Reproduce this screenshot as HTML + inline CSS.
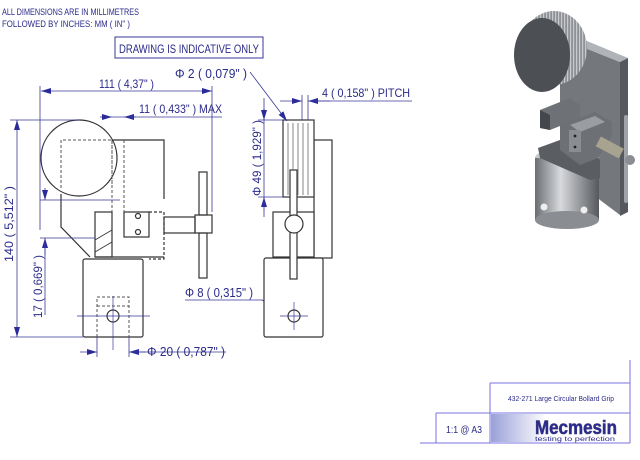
<!DOCTYPE html>
<html><head><meta charset="utf-8"><style>
html,body{margin:0;padding:0;background:#fff;width:640px;height:460px;overflow:hidden}
svg{display:block}
text{font-family:"Liberation Sans",sans-serif;fill:#2a2a8a}
</style></head><body>
<svg width="640" height="460" viewBox="0 0 640 460" xmlns="http://www.w3.org/2000/svg">
<defs>
<marker id="a" viewBox="0 0 10 6" refX="10" refY="3" markerWidth="10" markerHeight="6" orient="auto-start-reverse" markerUnits="userSpaceOnUse"><path d="M0,0L10,3L0,6z" fill="#2a2a9a"/></marker>
<linearGradient id="cyl" x1="0" x2="1"><stop offset="0" stop-color="#6a6d72"/><stop offset="0.4" stop-color="#d8dadd"/><stop offset="1" stop-color="#55585c"/></linearGradient>
<linearGradient id="logo" x1="0" x2="1"><stop offset="0" stop-color="#9aa0d8"/><stop offset="0.4" stop-color="#fff"/><stop offset="1" stop-color="#fff"/></linearGradient>
<pattern id="grv" width="3" height="4" patternUnits="userSpaceOnUse"><rect width="3" height="4" fill="#8e9196"/><rect width="1.2" height="4" fill="#c8cacd"/></pattern>
</defs>

<text x="2" y="15" font-size="9.5" textLength="137" lengthAdjust="spacingAndGlyphs">ALL DIMENSIONS ARE IN MILLIMETRES</text>
<text x="2" y="27" font-size="9.5" textLength="128" lengthAdjust="spacingAndGlyphs">FOLLOWED BY INCHES:   MM ( IN" )</text>
<rect x="115" y="37" width="148" height="21" fill="none" stroke="#3a3a9a" stroke-width="1"/>
<text x="119" y="53" font-size="12" textLength="140" lengthAdjust="spacingAndGlyphs">DRAWING IS INDICATIVE ONLY</text>

<g stroke="#333" stroke-width="1.2" fill="none">
<circle cx="79" cy="158" r="38" fill="#fff"/>
<path d="M112,140H164V199"/>
<path d="M61,194V227L90,257"/>
<rect x="95" y="212" width="17" height="45"/>
<path d="M95,240L112,230M95,252L112,242" stroke-width="0.8"/>
<rect x="124" y="212" width="25" height="25"/>
<circle cx="138" cy="216" r="2.5"/><circle cx="138" cy="232" r="2.5"/>
<path d="M149,212H164V259H149" stroke-dasharray="3,2"/>
<path d="M95,257H164"/>
<rect x="164" y="217" width="31" height="16"/>
<rect x="195" y="215" width="17" height="18"/>
<rect x="199" y="172" width="8" height="43"/>
<rect x="199" y="233" width="8" height="45"/>
<rect x="83" y="259" width="60" height="78" rx="2" fill="#fff"/>
<circle cx="113" cy="316" r="6"/>
</g>
<g stroke="#555" stroke-width="1" fill="none" stroke-dasharray="3,2">
<path d="M61,188V140H112V188"/>
<path d="M97,337V297H129V337M97,306H129"/>
<path d="M112,140V212M124,140V212"/>
</g>
<path d="M77,316H150M113,296V350" stroke="#3a3a9a" stroke-width="0.7"/>

<g stroke="#3a3a9a" stroke-width="0.8" fill="none">
<path d="M40,86V230M212,86V212"/>
<path d="M41,91H212" marker-start="url(#a)" marker-end="url(#a)"/>
<path d="M100,117H112" marker-end="url(#a)"/><path d="M136,117H124" marker-end="url(#a)"/>
<path d="M112,117H222"/>
<path d="M10,120H80M10,337H83"/>
<path d="M17,120V337" marker-start="url(#a)" marker-end="url(#a)"/>
<path d="M40,200H120M40,238H95"/>
<path d="M45,188V200" marker-end="url(#a)"/><path d="M45,255V238" marker-end="url(#a)"/>
<path d="M45,238V315"/>
<path d="M97,337V357M129,337V357"/>
<path d="M80,352H97" marker-end="url(#a)"/><path d="M146,352H129" marker-end="url(#a)"/>
<path d="M129,352H226"/>
<path d="M185,300H262L289,312" /><path d="M262,300L289,312" marker-end="url(#a)"/>
</g>
<text x="99" y="88" font-size="12" textLength="55" lengthAdjust="spacingAndGlyphs">111 ( 4,37" )</text>
<text x="139" y="113" font-size="12" textLength="83" lengthAdjust="spacingAndGlyphs">11 ( 0,433" ) MAX</text>
<text transform="translate(13,262) rotate(-90)" font-size="12" textLength="76" lengthAdjust="spacingAndGlyphs">140 ( 5,512" )</text>
<text transform="translate(42,318) rotate(-90)" font-size="12" textLength="63" lengthAdjust="spacingAndGlyphs">17 ( 0,669" )</text>
<text x="147" y="356" font-size="13" textLength="78" lengthAdjust="spacingAndGlyphs">Φ 20 ( 0,787" )</text>
<text x="185" y="297" font-size="13" textLength="68" lengthAdjust="spacingAndGlyphs">Φ 8 ( 0,315" )</text>
<text x="175" y="78" font-size="13" textLength="72" lengthAdjust="spacingAndGlyphs">Φ 2 ( 0,079" )</text>

<g stroke="#333" stroke-width="1.2" fill="none">
<rect x="314" y="140" width="18" height="118" fill="#fff"/>
<rect x="283" y="120" width="31" height="77" fill="#fff"/>
<rect x="273" y="212" width="41" height="45" fill="#fff"/>
<rect x="264" y="258" width="59" height="79" rx="2" fill="#fff"/>
<rect x="290" y="170" width="7" height="109" fill="#fff"/>
<circle cx="294" cy="224" r="9" fill="#fff"/>
<circle cx="294" cy="316" r="6"/>
</g>
<g stroke="#666" stroke-width="0.8">
<path d="M288,123V195M293,123V170M298,123V195M303,123V195M308,123V195"/>
</g>
<path d="M280,316H308M294,302V330" stroke="#3a3a9a" stroke-width="0.7"/>
<g stroke="#3a3a9a" stroke-width="0.8" fill="none">
<path d="M258,120H283M258,197H283"/>
<path d="M264,98V120" /><path d="M264,108V120" marker-end="url(#a)"/>
<path d="M264,120V197"/><path d="M264,209V197" marker-end="url(#a)"/><path d="M264,197V217"/>
<path d="M302,95V120M308,95V120"/>
<path d="M280,101H302" marker-end="url(#a)"/><path d="M330,101H308" marker-end="url(#a)"/>
<path d="M308,101H412"/>
<path d="M250,72L287,121" marker-end="url(#a)"/>
</g>
<text transform="translate(261,196) rotate(-90)" font-size="12" textLength="76" lengthAdjust="spacingAndGlyphs">Φ 49 ( 1,929" )</text>
<text x="322" y="97" font-size="12" textLength="88" lengthAdjust="spacingAndGlyphs">4 ( 0,158" ) PITCH</text>

<!-- 3D render -->
<g>
<polygon points="560,38 620,62 620,215 600,200 560,160" fill="#74777c"/>
<polygon points="560,38 570,34 628,58 620,62" fill="#b0b3b8"/>
<polygon points="620,62 628,58 628,212 620,216" fill="#55585c"/>
<ellipse cx="554" cy="48" rx="33" ry="37" fill="url(#grv)"/>
<ellipse cx="542" cy="55" rx="28" ry="37" fill="#4c4f54"/>
<polygon points="540,110 570,98 580,105 580,118 550,130 540,128" fill="#6e7176"/>
<polygon points="540,110 550,115 550,130 540,128" fill="#44474b"/>
<ellipse cx="567" cy="158" rx="32" ry="10" fill="#c5c8cc"/>
<rect x="535" y="158" width="64" height="62" fill="url(#cyl)"/>
<ellipse cx="567" cy="220" rx="32" ry="9" fill="#8a8d92"/>
<circle cx="544" cy="207" r="3.5" fill="#eee"/><circle cx="584" cy="210" r="3.5" fill="#eee"/>
<polygon points="538,148 560,140 600,160 600,178 590,180 540,158" fill="#5a5d62"/>
<polygon points="560,125 595,112 612,122 612,136 598,158 580,165 560,150" fill="#6d7075"/>
<polygon points="570,125 595,116 605,122 580,132" fill="#9a9da2"/>
<rect x="569" y="130" width="12" height="22" fill="#8a8d92"/>
<circle cx="575" cy="136" r="1.4" fill="#222"/><circle cx="575" cy="147" r="1.4" fill="#222"/>
<rect x="597" y="142" width="26" height="11" transform="rotate(28 610 147)" fill="#a8a290"/>
<rect x="624" y="115" width="4" height="88" rx="2" fill="#a0a3a8"/>
<circle cx="630" cy="160" r="5" fill="#8a8d92"/>
</g>

<g stroke="#7a70e0" stroke-width="1" fill="none">
<path d="M630,360V443M490,383H630M436,413H630M420,443H630M436,413V443M490,383V443"/>
</g>
<text x="508" y="401" font-size="7" fill="#444488" textLength="106" lengthAdjust="spacingAndGlyphs">432-271 Large Circular Bollard Grip</text>
<text x="446" y="433" font-size="10" textLength="36" lengthAdjust="spacingAndGlyphs">1:1 @ A3</text>
<rect x="491" y="414" width="138" height="28" fill="url(#logo)"/>
<text x="535" y="434" font-size="19" font-weight="bold" fill="#8088c8" stroke="#3a3a8a" stroke-width="0.6" textLength="82" lengthAdjust="spacingAndGlyphs">Mecmesin</text>
<text x="535" y="441" font-size="6" fill="#4a8a8a" textLength="80" lengthAdjust="spacingAndGlyphs">testing to perfection</text>
</svg>
</body></html>
